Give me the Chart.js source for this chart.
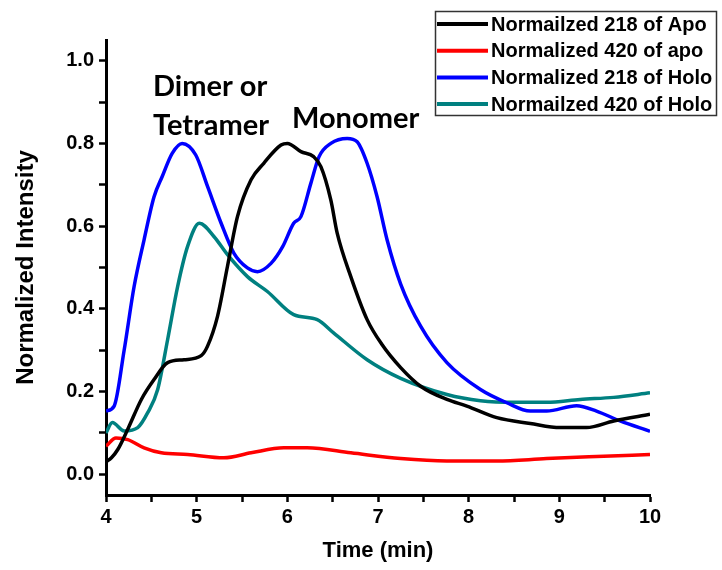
<!DOCTYPE html>
<html>
<head>
<meta charset="utf-8">
<script src="https://cdn.jsdelivr.net/npm/chart.js@4.4.1/dist/chart.umd.min.js"></script>
<style>
  html, body { margin: 0; padding: 0; background: #fff; }
  #wrap { width: 722px; height: 570px; }
</style>
</head>
<body>
<div id="wrap"><canvas id="chart" width="722" height="570"></canvas></div>
<script>
// --- data ---
const seriesLabels = ['Normailzed 218 of Apo', 'Normalized 420 of apo', 'Normalized 218 of Holo', 'Normailzed 420 of Holo'];
const seriesColors = ['#000000', '#ff0000', '#0000ff', '#008080'];

// Normailzed 218 of Apo (black)
const apo218T = [4.0, 4.06, 4.13, 4.24, 4.39, 4.53, 4.68, 4.86, 5.05, 5.12, 5.23, 5.34, 5.45, 5.60, 5.74, 5.93, 6.0, 6.15, 6.29, 6.37, 6.48, 6.55, 6.70, 6.88, 7.04, 7.25, 7.47, 7.76, 7.98, 8.31, 8.68, 9.01, 9.30, 9.60, 10.0];
const apo218V = [0.03, 0.04, 0.06, 0.109, 0.181, 0.229, 0.27, 0.277, 0.287, 0.31, 0.382, 0.503, 0.623, 0.712, 0.752, 0.796, 0.80, 0.78, 0.768, 0.744, 0.663, 0.583, 0.478, 0.374, 0.315, 0.258, 0.213, 0.181, 0.165, 0.137, 0.123, 0.113, 0.113, 0.129, 0.145];

// Normalized 420 of apo (red)
const apo420T = [4.0, 4.11, 4.24, 4.42, 4.61, 4.90, 5.30, 5.60, 5.96, 6.22, 6.70, 7.25, 7.76, 8.31, 8.86, 9.41, 10.0];
const apo420V = [0.068, 0.088, 0.084, 0.064, 0.052, 0.048, 0.04, 0.052, 0.064, 0.064, 0.052, 0.038, 0.032, 0.032, 0.038, 0.043, 0.048];

// Normalized 218 of Holo (blue)
const holo218T = [4.0, 4.09, 4.2, 4.31, 4.42, 4.53, 4.62, 4.73, 4.84, 4.99, 5.12, 5.27, 5.41, 5.56, 5.67, 5.82, 5.95, 6.07, 6.15, 6.26, 6.35, 6.48, 6.66, 6.77, 6.88, 6.99, 7.1, 7.25, 7.47, 7.76, 8.13, 8.42, 8.68, 8.86, 9.19, 9.41, 9.67, 10.0];
const holo218V = [0.153, 0.165, 0.30, 0.454, 0.567, 0.671, 0.72, 0.776, 0.80, 0.772, 0.696, 0.607, 0.535, 0.499, 0.49, 0.51, 0.551, 0.607, 0.623, 0.704, 0.768, 0.80, 0.812, 0.804, 0.752, 0.671, 0.567, 0.46, 0.358, 0.27, 0.205, 0.173, 0.153, 0.153, 0.166, 0.153, 0.129, 0.104];

// Normailzed 420 of Holo (teal)
const holo420T = [4.0, 4.07, 4.2, 4.35, 4.46, 4.57, 4.68, 4.79, 4.90, 5.03, 5.19, 5.34, 5.56, 5.78, 6.07, 6.33, 6.51, 6.88, 7.25, 7.76, 8.13, 8.50, 8.86, 9.23, 9.60, 10.0];
const holo420V = [0.10, 0.125, 0.105, 0.113, 0.149, 0.205, 0.326, 0.454, 0.551, 0.607, 0.575, 0.531, 0.478, 0.442, 0.386, 0.374, 0.342, 0.277, 0.232, 0.193, 0.178, 0.174, 0.174, 0.181, 0.186, 0.197];

// ticks
const xTicks = [4, 4.5, 5, 5.5, 6, 6.5, 7, 7.5, 8, 8.5, 9, 9.5, 10];
const yTicks = [0, 0.1, 0.2, 0.3, 0.4, 0.5, 0.6, 0.7, 0.8, 0.9, 1.0];

// annotations on the plot
const notes = [
    { text: 'Dimer or', x: 153, y: 96 },
    { text: 'Tetramer', x: 153, y: 135 },
    { text: 'Monomer', x: 292, y: 128 }
];

function toPoints(ts, vs) {
    return ts.map(function (t, i) { return { x: t, y: vs[i] }; });
}

const allT = [apo218T, apo420T, holo218T, holo420T];
const allV = [apo218V, apo420V, holo218V, holo420V];

const datasets = seriesLabels.map(function (lab, i) {
    return {
        label: lab,
        data: toPoints(allT[i], allV[i]),
        borderColor: seriesColors[i],
        backgroundColor: seriesColors[i],
        borderWidth: 3.5,
        pointRadius: 0,
        cubicInterpolationMode: 'monotone',
        fill: false
    };
});

// legend drawn as a box in the top-right corner
const boxLegend = {
    id: 'boxLegend',
    afterDraw(chart) {
        const ctx = chart.ctx;
        ctx.save();
        ctx.strokeStyle = '#333';
        ctx.lineWidth = 1.5;
        ctx.strokeRect(435.5, 11.5, 281, 104);
        ctx.font = 'bold 20px "Liberation Sans", Arial, sans-serif';
        ctx.textBaseline = 'middle';
        chart.data.datasets.forEach(function (ds, i) {
            const yy = 24 + i * 26.7;
            ctx.strokeStyle = ds.borderColor;
            ctx.lineWidth = 4;
            ctx.beginPath();
            ctx.moveTo(437, yy);
            ctx.lineTo(488, yy);
            ctx.stroke();
            ctx.fillStyle = '#000';
            ctx.fillText(ds.label, 491, yy + 1);
        });
        ctx.restore();
    }
};

const notesPlugin = {
    id: 'notes',
    afterDraw(chart) {
        const ctx = chart.ctx;
        ctx.save();
        ctx.font = 'bold 29px Lato, "Open Sans", sans-serif';
        ctx.fillStyle = '#000';
        ctx.textBaseline = 'alphabetic';
        notes.forEach(function (n) { ctx.fillText(n.text, n.x, n.y); });
        ctx.restore();
    }
};

new Chart(document.getElementById('chart'), {
    type: 'line',
    data: { datasets: datasets },
    options: {
        responsive: false,
        animation: false,
        layout: { padding: { top: 40, right: 72, left: 0, bottom: 0 } },
        plugins: {
            legend: { display: false },
            tooltip: { enabled: false }
        },
        scales: {
            x: {
                type: 'linear',
                min: 4,
                max: 10,
                afterBuildTicks: function (s) { s.ticks = xTicks.map(function (v) { return { value: v }; }); },
                afterFit: function (s) { s.height = 75; },
                border: { color: '#000', width: 3 },
                grid: { drawOnChartArea: false, drawTicks: true, tickLength: 7, tickColor: '#000', tickWidth: 2.5 },
                ticks: {
                    color: '#000',
                    padding: 3,
                    maxRotation: 0,
                    autoSkip: false,
                    font: { family: '"Liberation Sans", Arial, sans-serif', size: 20, weight: 'bold' },
                    callback: function (v) { return Number.isInteger(v) ? String(v) : ''; }
                },
                title: {
                    display: true,
                    text: 'Time (min)',
                    color: '#000',
                    padding: { top: 0, bottom: 6 },
                    font: { family: '"Liberation Sans", Arial, sans-serif', size: 22, weight: 'bold' }
                }
            },
            y: {
                min: -0.05,
                max: 1.05,
                afterBuildTicks: function (s) { s.ticks = yTicks.map(function (v) { return { value: v }; }); },
                afterFit: function (s) { s.width = 106; },
                border: { color: '#000', width: 3 },
                grid: { drawOnChartArea: false, drawTicks: true, tickLength: 7, tickColor: '#000', tickWidth: 2.5 },
                ticks: {
                    color: '#000',
                    padding: 5,
                    autoSkip: false,
                    font: { family: '"Liberation Sans", Arial, sans-serif', size: 20, weight: 'bold' },
                    callback: function (v, i) { return i % 2 === 0 ? v.toFixed(1) : ''; }
                },
                title: {
                    display: true,
                    text: 'Normalized Intensity',
                    color: '#000',
                    padding: { top: 12, bottom: 0 },
                    font: { family: '"Liberation Sans", Arial, sans-serif', size: 24, weight: 'bold' }
                }
            }
        }
    },
    plugins: [boxLegend, notesPlugin]
});
</script>
</body>
</html>
